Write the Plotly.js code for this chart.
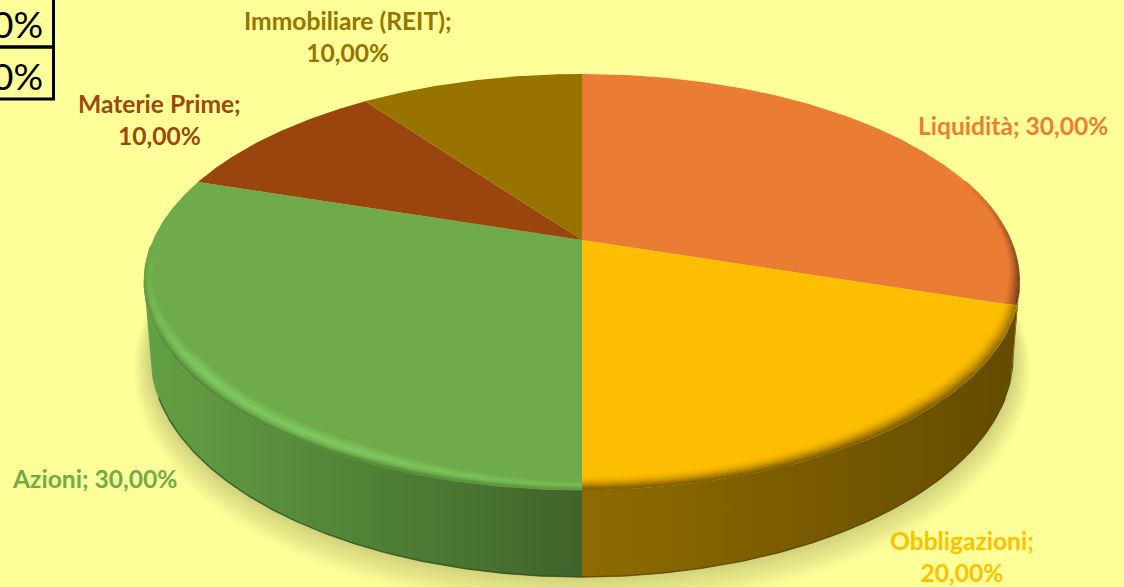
<!DOCTYPE html>
<html><head><meta charset="utf-8">
<script src="https://cdn.plot.ly/plotly-3.0.1.min.js"></script>
<style>html,body{margin:0;padding:0;background:#FFFF99;overflow:hidden}#c{width:1124px;height:587px}</style>
</head><body><div id="c"></div>
<script>
// ---- data ----
const categories = ["Liquidità","Obbligazioni","Azioni","Materie Prime","Immobiliare (REIT)"];
const shares = [30,20,30,10,10];
const cutOffLabels = ["0%","0%"];
// ---- styles and layout ----
const sliceColors = ["#EB7C33","#FDBD00","#6FAB4A","#9A450D","#997300"];
const labelColors = ["#ED7D31","#FFC000","#70AD47","#9E480E","#997300"];
const wallGrad = [["#6b4f00","#6b4f00"],["#8f6c00","#634b00"],["#63a043","#3f642a"],["#000","#000"],["#000","#000"]];
const labelBreak = ["; ",";<br>","; ",";<br>",";<br>"];
const labelAt = [[1013,125.5],[962,556.5],[94,478.5],[159.5,119],[347.5,36.5]];
const top3d = {cx:582,hub:240,R:429,S:199.5,k:0.2018};
const bot3d = {cx:582,hub:311,R:423,S:213,k:0.2};
// rim colour stops: [depth from the rim (disc radius), rgb]
const rimYellow = [[.042,[253,189,0]],[.03,[240,178,0]],[.018,[205,150,0]],[.008,[160,118,0]],[0,[125,92,0]]];
const rimGreen  = [[.05,[111,171,74]],[.034,[122,192,88]],[.024,[128,202,96]],[.012,[112,178,80]],[0,[82,130,55]]];
const rimOrange = [[.026,[235,124,51]],[.016,[200,105,44]],[.006,[150,80,34]],[0,[110,60,26]]];

function pt(p,frac,r){const t=2*Math.PI*frac,u=r*Math.sin(t),v=-r*Math.cos(t),w=1-p.k*v;
  return [p.cx+p.R*u/w,p.hub+p.S*v/w];}
function arc(p,a,b,r){const n=Math.max(2,Math.ceil(Math.abs(b-a)*720)),o=[];
  for(let i=0;i<=n;i++)o.push(pt(p,a+(b-a)*i/n,r));return o;}
const total=shares.reduce((s,v)=>s+v,0);
let acc=0;const starts=shares.map(v=>{const s=acc/total;acc+=v;return s;});
const ends=shares.map((v,i)=>starts[i]+v/total);
const traces=[];
function poly(pts,extra){traces.push(Object.assign({type:"scatter",mode:"lines",x:pts.map(q=>q[0]),y:pts.map(q=>q[1]),
  fill:"toself",line:{width:0},hoverinfo:"skip",showlegend:false},extra));}
function lineOf(pts,color,width,op){traces.push({type:"scatter",mode:"lines",x:pts.map(q=>q[0]),y:pts.map(q=>q[1]),
  line:{color:color,width:width,shape:"linear"},opacity:op===undefined?1:op,hoverinfo:"skip",showlegend:false});}
// soft shadow under the disc
for(let d=22;d>=1;d-=1.5){
  const p={cx:bot3d.cx,hub:bot3d.hub+d*0.55,R:bot3d.R+d*0.75,S:bot3d.S+d*0.75,k:bot3d.k};
  poly(arc(p,0.17,0.83,1),{fillcolor:"rgba(90,90,40,0.014)"});
}
// visible side walls
const wallFrom=0.2815, wallTo=0.7185;
categories.forEach((c,i)=>{
  const a=Math.max(starts[i],wallFrom),b=Math.min(ends[i],wallTo);
  if(b<=a)return;
  const pts=arc(top3d,a,b,1).concat(arc(bot3d,b,a,1));
  poly(pts,{fillgradient:{type:"horizontal",colorscale:[[0,wallGrad[i][0]],[1,wallGrad[i][1]]]},fillcolor:wallGrad[i][0]});
});
// dark foot of the wall
lineOf(arc(bot3d,0.5,wallTo-0.03,0.999),"#2f4d1c",1.5,0.7);
lineOf(arc(bot3d,0.5,wallFrom+0.03,0.999),"#5a4300",1.5,0.7);
// top slices
categories.forEach((c,i)=>{
  const pts=[pt(top3d,0,0)].concat(arc(top3d,starts[i],ends[i],1));
  poly(pts,{fillcolor:sliceColors[i],name:c});
});
// bevel along the rim: each band is cut in chunks whose colour fades to the slice colour
function rimRgb(stops,d){
  for(let i=0;i<stops.length-1;i++){const A=stops[i],B=stops[i+1];
    if(d<=A[0]&&d>=B[0]){const f=(d-B[0])/(A[0]-B[0]||1);
      return [0,1,2].map(j=>B[1][j]+(A[1][j]-B[1][j])*f);}}
  return stops[0][1];
}
function bevel(stops,a,b,taper,chunks){
  const maxD=stops[0][0],base=stops[0][1];
  for(let d=maxD;d>=0;d-=0.004){
    const c=rimRgb(stops,d);
    for(let k=0;k<chunks;k++){
      const f0=a+(b-a)*k/chunks,f1=a+(b-a)*(k+1)/chunks,t=taper((f0+f1)/2),pts=[];
      const n=Math.max(2,Math.ceil((f1-f0)*720));
      for(let i=0;i<=n;i++){const f=f0+(f1-f0)*i/n;pts.push(pt(top3d,f,1-d*Math.max(0.35,taper(f))-0.001));}
      const col="rgb("+[0,1,2].map(j=>Math.round(base[j]+(c[j]-base[j])*t)).join(",")+")";
      lineOf(pts,col,2.4);
    }
  }
}
const ramp=(x,x0,x1)=>Math.max(0,Math.min(1,(x-x0)/(x1-x0)));
bevel(rimOrange,0.2,0.2995,f=>ramp(f,0.2,0.285),14);
bevel(rimGreen,0.5,0.745,f=>(0.45+0.55*ramp(f,0.5,0.57))*(1-ramp(f,0.65,0.745)),18);
bevel(rimYellow,0.3,0.5,f=>0.7+0.3*ramp(f,0.3,0.38),8);

const fmt=v=>v.toFixed(2).replace(".",",")+"%";
const annotations=categories.map((c,i)=>({x:labelAt[i][0],y:labelAt[i][1],xref:"x",yref:"y",showarrow:false,
  text:"<b>"+c+labelBreak[i]+fmt(shares[i])+"</b>",align:"center",
  font:{family:"Lato, sans-serif",size:24.6,color:labelColors[i]},xanchor:"center",yanchor:"middle"}));
cutOffLabels.forEach((t,i)=>annotations.push({x:45,y:[23,75][i],xref:"x",yref:"y",showarrow:false,text:t,
  font:{family:"Lato, sans-serif",size:37,color:"#000"},xanchor:"right",yanchor:"middle"}));
const shapes=[[-10,47],[47,99]].map(r=>({type:"rect",xref:"x",yref:"y",x0:-10,x1:53.5,y0:r[0],y1:r[1],
  line:{color:"#000",width:3},fillcolor:"rgba(0,0,0,0)"}));
Plotly.newPlot("c",traces,{
  width:1124,height:587,autosize:false,margin:{l:0,r:0,t:0,b:0},
  paper_bgcolor:"#FFFF99",plot_bgcolor:"#FFFF99",showlegend:false,
  xaxis:{range:[0,1124],visible:false,fixedrange:true},
  yaxis:{range:[587,0],visible:false,fixedrange:true},
  annotations:annotations,shapes:shapes
},{displayModeBar:false,staticPlot:true});
</script></body></html>
